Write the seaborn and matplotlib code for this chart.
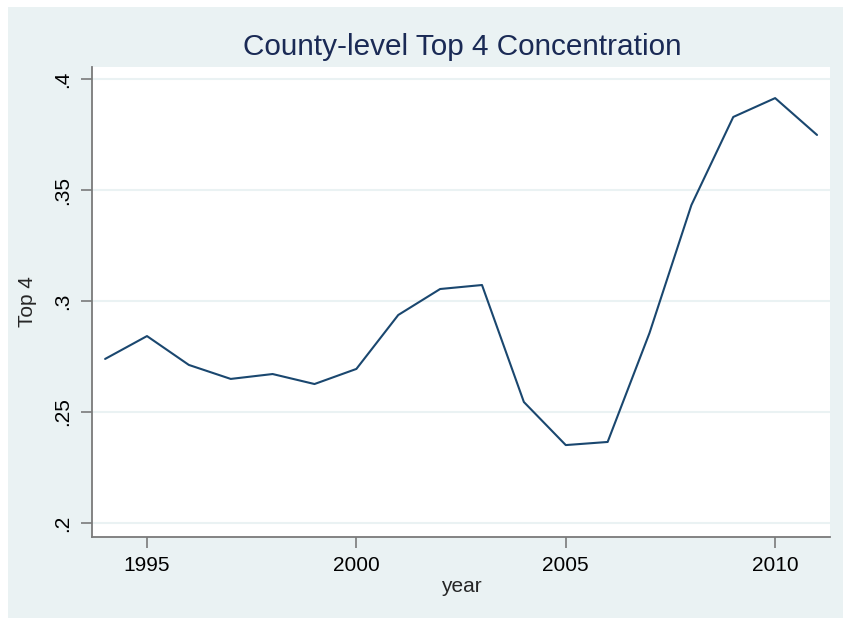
import numpy as np
import pandas as pd
import seaborn as sns
import matplotlib.pyplot as plt
from matplotlib.patches import Rectangle

years = list(range(1994, 2012))
top4 = [0.2739, 0.2842, 0.2712, 0.2649, 0.2671, 0.2626, 0.2694, 0.2937, 0.3054,
        0.3072, 0.2545, 0.2351, 0.2365, 0.2856, 0.3432, 0.3829, 0.3914, 0.3748]
yticks = [0.2, 0.25, 0.3, 0.35, 0.4]
ytick_labels = [".2", ".25", ".3", ".35", ".4"]
xticks = [1995, 2000, 2005, 2010]

df = pd.DataFrame({"year": years, "Top 4": top4})

sns.set_style("white")
plt.rcParams['font.family'] = ['Liberation Sans', 'DejaVu Sans']

W, H = 843, 618
fig = plt.figure(figsize=(W / 100, H / 100), dpi=100, facecolor="white")
bg = "#EAF2F3"
fig.patches.append(Rectangle((8 / W, 0), 1 - 8 / W, (H - 7) / H,
                             transform=fig.transFigure, facecolor=bg,
                             edgecolor="none", zorder=-10))

ax = fig.add_axes([92 / W, (H - 537) / H, (830 - 92) / W, (537 - 67) / H])
ax.set_facecolor("white")

sns.lineplot(data=df, x="year", y="Top 4", ax=ax, color="#1A476F", linewidth=1.5)

ax.set_xlim(1993.687, 2011.31)
ax.set_ylim(0.19369, 0.40541)
ax.set_yticks(yticks)
ax.set_yticklabels(ytick_labels, rotation=90, va="center")
ax.set_xticks(xticks)
ax.set_xticklabels([str(x) for x in xticks])
ax.grid(axis="y", color=bg, linewidth=1.5)
ax.set_axisbelow(True)

for s in ["top", "right"]:
    ax.spines[s].set_visible(False)
for s in ["left", "bottom"]:
    ax.spines[s].set_color("#7A7A7A")
    ax.spines[s].set_linewidth(1.3)

ax.tick_params(axis="both", direction="out", length=8, width=1.2, color="#7A7A7A",
               labelsize=15, labelcolor="black", pad=6, left=True, bottom=True)

ax.set_xlabel("year", fontsize=15, labelpad=1)
ax.set_ylabel("Top 4", fontsize=15, labelpad=12)
fig.text(462 / W, 1 - 47 / H, "County-level Top 4 Concentration", ha="center",
         va="center", fontsize=21.4, color="#1A2A55")

fig.savefig("out.png", dpi=100, facecolor=fig.get_facecolor())
